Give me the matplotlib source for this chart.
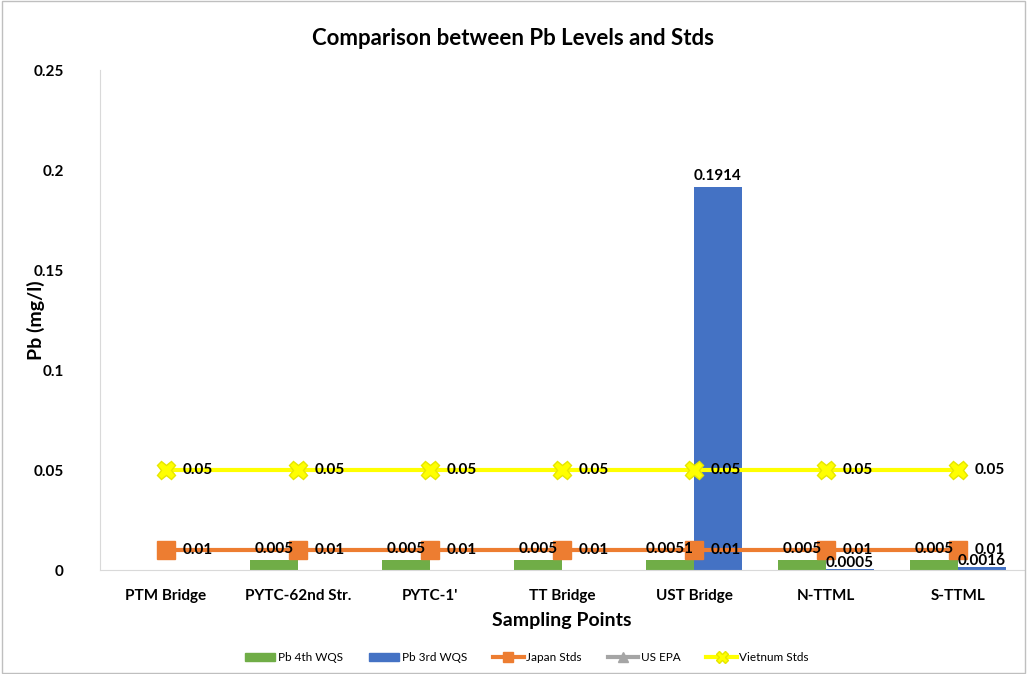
import matplotlib
matplotlib.use("Agg")
import matplotlib.pyplot as plt
from matplotlib.lines import Line2D
from matplotlib.patches import Patch
import numpy as np

sites = ['PTM Bridge', 'PYTC-62nd Str.', "PYTC-1'", 'TT Bridge', 'UST Bridge', 'N-TTML', 'S-TTML']
pb_4th = [np.nan, 0.005, 0.005, 0.005, 0.0051, 0.005, 0.005]
pb_3rd = [np.nan, np.nan, np.nan, np.nan, 0.1914, 0.0005, 0.0016]
japan = [0.01] * 7
us_epa = [np.nan] * 7
vietnam = [0.05] * 7

plt.rcParams['font.family'] = ['Lato', 'DejaVu Sans']

fig = plt.figure(figsize=(10.27, 6.74), dpi=100)
ax = fig.add_axes([0.0974, 0.1543, 0.8996, 0.7418])

x = np.arange(len(sites))
w = 0.364
ax.bar(x - w / 2, pb_4th, w, color='#70AD47')
ax.bar(x + w / 2, pb_3rd, w, color='#4472C4')
ax.plot(x, japan, color='#ED7D31', lw=3, marker='s', ms=13)
ax.plot(x, us_epa, color='#A5A5A5', lw=3, marker='^', ms=8)
ax.plot(x, vietnam, color='#FFFF00', lw=3, marker='X', ms=13, mec='#E6E600')

# data labels
lab = dict(fontsize=11, fontweight='bold', color='black')
for i in range(len(sites)):
    if not np.isnan(pb_4th[i]):
        ax.annotate(f'{pb_4th[i]:g}', (x[i] - w / 2, pb_4th[i]), xytext=(0, 3),
                    textcoords='offset points', ha='center', va='bottom', **lab)
    if not np.isnan(pb_3rd[i]):
        dy = 3 if pb_3rd[i] > 0.05 else -1
        ax.annotate(f'{pb_3rd[i]:g}', (x[i] + w / 2, pb_3rd[i]), xytext=(0, dy),
                    textcoords='offset points', ha='center', va='bottom', **lab)
    ax.annotate(f'{japan[i]:g}', (x[i], japan[i]), xytext=(12, 0),
                textcoords='offset points', ha='left', va='center', **lab)
    ax.annotate(f'{vietnam[i]:g}', (x[i], vietnam[i]), xytext=(12, 0),
                textcoords='offset points', ha='left', va='center', **lab)

ax.set_xlim(-0.5, len(sites) - 0.5)
ax.set_ylim(0, 0.25)
ax.set_yticks([0, 0.05, 0.1, 0.15, 0.2, 0.25])
ax.set_yticklabels(['0', '0.05', '0.1', '0.15', '0.2', '0.25'])
ax.set_xticks(x)
ax.set_xticklabels(sites)
for t in ax.get_xticklabels() + ax.get_yticklabels():
    t.set_fontweight('bold')
    t.set_fontsize(11)
ax.tick_params(length=0, pad=14)
ax.tick_params(axis='y', pad=26)
for s in ['top', 'right']:
    ax.spines[s].set_visible(False)
for s in ['left', 'bottom']:
    ax.spines[s].set_color('#D9D9D9')

ax.set_xlabel('Sampling Points', fontsize=14, fontweight='bold', labelpad=6)
ax.set_ylabel('Pb (mg/l)', fontsize=14, fontweight='bold')
ax.yaxis.set_label_coords(-0.06, 0.5)
fig.suptitle('Comparison between Pb Levels and Stds', fontsize=16, fontweight='bold', y=0.958)

handles = [
    Patch(color='#70AD47'),
    Patch(color='#4472C4'),
    Line2D([], [], color='#ED7D31', lw=3, marker='s', ms=7),
    Line2D([], [], color='#A5A5A5', lw=3, marker='^', ms=7),
    Line2D([], [], color='#FFFF00', lw=3, marker='X', ms=8, mec='#E6E600'),
]
names = ['Pb 4th WQS', 'Pb 3rd WQS', 'Japan Stds', 'US EPA', 'Vietnum Stds']
fig.legend(handles, names, loc='lower center', ncol=5, frameon=False, fontsize=8.5,
           bbox_to_anchor=(0.513, 0.0), handlelength=2.6, handleheight=0.6,
           handletextpad=0.2, columnspacing=2.2)

fig.patches.append(plt.Rectangle((0.002, 0.002), 0.996, 0.996, transform=fig.transFigure,
                                 fill=False, ec='#BFBFBF', lw=1))
fig.savefig('out.png', dpi=100)
